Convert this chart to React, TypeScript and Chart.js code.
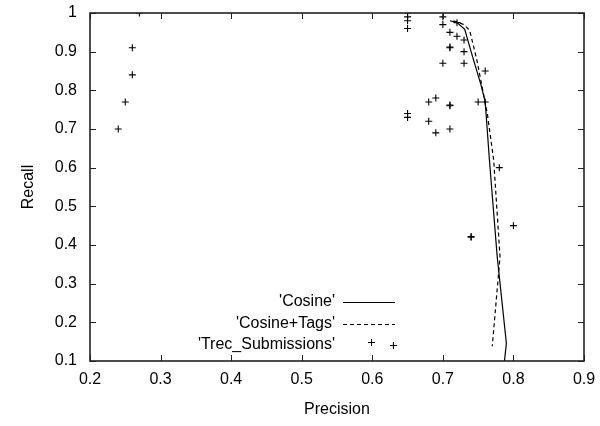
import React, { useEffect, useRef } from "react";
import { Chart, registerables } from "chart.js";
Chart.register(...registerables);

const cosinePrecision = [0.71, 0.72, 0.731, 0.74, 0.754, 0.76, 0.766, 0.777, 0.79, 0.785];
const cosineRecall = [0.98, 0.975, 0.958, 0.9, 0.814, 0.77, 0.62, 0.37, 0.146, 0.06];

const tagsPrecision = [0.715, 0.73, 0.738, 0.748, 0.763, 0.772, 0.781, 0.77];
const tagsRecall = [0.98, 0.97, 0.955, 0.88, 0.74, 0.62, 0.37, 0.138];

const trecPrecision = [
  0.24, 0.25, 0.26, 0.26, 0.27,
  0.65, 0.65, 0.65, 0.65, 0.65, 0.65,
  0.70, 0.70, 0.72, 0.71, 0.72, 0.73, 0.71, 0.71, 0.73, 0.70, 0.73, 0.76,
  0.68, 0.69, 0.71, 0.71, 0.75, 0.76, 0.68, 0.69, 0.71,
  0.78, 0.80, 0.74, 0.74, 0.63,
];
const trecRecall = [
  0.70, 0.77, 0.84, 0.91, 1.0,
  1.0, 0.99, 0.98, 0.96, 0.74, 0.73,
  0.99, 0.97, 0.975, 0.95, 0.94, 0.93, 0.91, 0.912, 0.90, 0.87, 0.87, 0.85,
  0.77, 0.78, 0.76, 0.762, 0.77, 0.77, 0.72, 0.69, 0.70,
  0.60, 0.45, 0.42, 0.422, 0.14,
];

const xTicks = [0.2, 0.3, 0.4, 0.5, 0.6, 0.7, 0.8, 0.9];
const yTicks = [0.1, 0.2, 0.3, 0.4, 0.5, 0.6, 0.7, 0.8, 0.9, 1.0];
const seriesLabels = ["'Cosine'", "'Cosine+Tags'", "'Trec_Submissions'"];
const xTitle = "Precision";
const yTitle = "Recall";

const FONT = "'Liberation Sans', Arial, Helvetica, sans-serif";
const TICK_SIZE = 16;

const zip = (xs: number[], ys: number[]) => xs.map((x, i) => ({ x, y: ys[i] }));
const fmt = (v: number) => String(Math.round(v * 10) / 10);

const framePlugin = {
  id: "gnuFrame",
  afterDatasetsDraw(chart: any) {
    const { ctx, chartArea: a, scales } = chart;
    const xs = scales.x;
    const ys = scales.y;
    ctx.save();
    ctx.strokeStyle = "#222";
    ctx.lineWidth = 1;
    const tl = 6;
    ctx.beginPath();
    for (const v of xTicks) {
      const px = Math.round(xs.getPixelForValue(v)) + 0.5;
      ctx.moveTo(px, a.bottom);
      ctx.lineTo(px, a.bottom - tl);
      ctx.moveTo(px, a.top);
      ctx.lineTo(px, a.top + tl);
    }
    for (const v of yTicks) {
      const py = Math.round(ys.getPixelForValue(v)) + 0.5;
      ctx.moveTo(a.left, py);
      ctx.lineTo(a.left + tl, py);
      ctx.moveTo(a.right, py);
      ctx.lineTo(a.right - tl, py);
    }
    ctx.stroke();
    ctx.lineWidth = 1.6;
    ctx.strokeStyle = "#222";
    ctx.strokeRect(a.left, a.top, a.right - a.left, a.bottom - a.top);

    // legend (gnuplot style, inside bottom right)
    const textRight = 335;
    const sx0 = 343;
    const sx1 = 395;
    const rows = [302, 324, 345];
    ctx.font = `${TICK_SIZE}px ${FONT}`;
    ctx.fillStyle = "#000";
    ctx.textAlign = "right";
    ctx.textBaseline = "middle";
    seriesLabels.forEach((t, i) => ctx.fillText(t, textRight, rows[i]));
    ctx.lineWidth = 1;
    ctx.strokeStyle = "#000";
    ctx.beginPath();
    ctx.moveTo(sx0, rows[0] + 0.5);
    ctx.lineTo(sx1, rows[0] + 0.5);
    ctx.stroke();
    ctx.setLineDash([4, 3]);
    ctx.beginPath();
    ctx.moveTo(sx0, rows[1] + 0.5);
    ctx.lineTo(sx1, rows[1] + 0.5);
    ctx.stroke();
    ctx.setLineDash([]);
    const cx = Math.round((sx0 + sx1) / 2) + 2.5;
    const cy = rows[2] - 3 + 0.5;
    ctx.beginPath();
    ctx.moveTo(cx - 3.5, cy);
    ctx.lineTo(cx + 3.5, cy);
    ctx.moveTo(cx, cy - 3.5);
    ctx.lineTo(cx, cy + 3.5);
    ctx.stroke();
    ctx.restore();
  },
};

export default function App() {
  const ref = useRef<HTMLCanvasElement | null>(null);
  useEffect(() => {
    if (!ref.current) return;
    const chart = new Chart(ref.current, {
      type: "scatter",
      data: {
        datasets: [
          {
            label: seriesLabels[0],
            data: zip(cosinePrecision, cosineRecall),
            showLine: true,
            borderColor: "#000",
            borderWidth: 1.2,
            pointRadius: 0,
            fill: false,
          },
          {
            label: seriesLabels[1],
            data: zip(tagsPrecision, tagsRecall),
            showLine: true,
            borderColor: "#000",
            borderWidth: 1.2,
            borderDash: [4, 3],
            pointRadius: 0,
            fill: false,
          },
          {
            label: seriesLabels[2],
            data: zip(trecPrecision, trecRecall),
            showLine: false,
            pointStyle: "cross",
            pointRadius: 3.5,
            borderColor: "#000",
            backgroundColor: "#000",
            pointBorderWidth: 1.1,
          },
        ],
      },
      options: {
        animation: false,
        responsive: false,
        maintainAspectRatio: false,
        layout: { padding: { left: 0, right: 16, top: 13, bottom: 0 } },
        plugins: { legend: { display: false }, tooltip: { enabled: false } },
        scales: {
          x: {
            type: "linear",
            min: 0.2,
            max: 0.9,
            grid: { display: false, drawTicks: false },
            border: { display: false },
            afterBuildTicks: (s: any) => {
              s.ticks = xTicks.map((v) => ({ value: v }));
            },
            afterFit: (s: any) => {
              s.height = 65;
              s.paddingLeft = 0;
              s.paddingRight = 0;
            },
            ticks: {
              color: "#000",
              padding: 9,
              font: { family: FONT, size: TICK_SIZE },
              callback: (v: any) => fmt(Number(v)),
              maxRotation: 0,
              autoSkip: false,
            },
            title: {
              display: true,
              text: xTitle,
              color: "#000",
              font: { family: FONT, size: TICK_SIZE },
              padding: { top: 0, bottom: 7 },
            },
          },
          y: {
            type: "linear",
            min: 0.1,
            max: 1.0,
            grid: { display: false, drawTicks: false },
            border: { display: false },
            afterBuildTicks: (s: any) => {
              s.ticks = yTicks.map((v) => ({ value: v }));
            },
            afterFit: (s: any) => {
              s.width = 90;
              s.paddingTop = 0;
              s.paddingBottom = 0;
            },
            ticks: {
              color: "#000",
              padding: 13,
              font: { family: FONT, size: TICK_SIZE },
              callback: (v: any) => fmt(Number(v)),
              autoSkip: false,
            },
            title: {
              display: true,
              text: yTitle,
              color: "#000",
              font: { family: FONT, size: TICK_SIZE },
              padding: { top: 19, bottom: 0 },
            },
          },
        },
      },
      plugins: [framePlugin],
    });
    return () => chart.destroy();
  }, []);
  return (
    <div style={{ position: "fixed", left: 0, top: 0, width: 600, height: 426, background: "#fff" }}>
      <canvas ref={ref} width={600} height={426} style={{ width: 600, height: 426, display: "block" }} />
    </div>
  );
}
